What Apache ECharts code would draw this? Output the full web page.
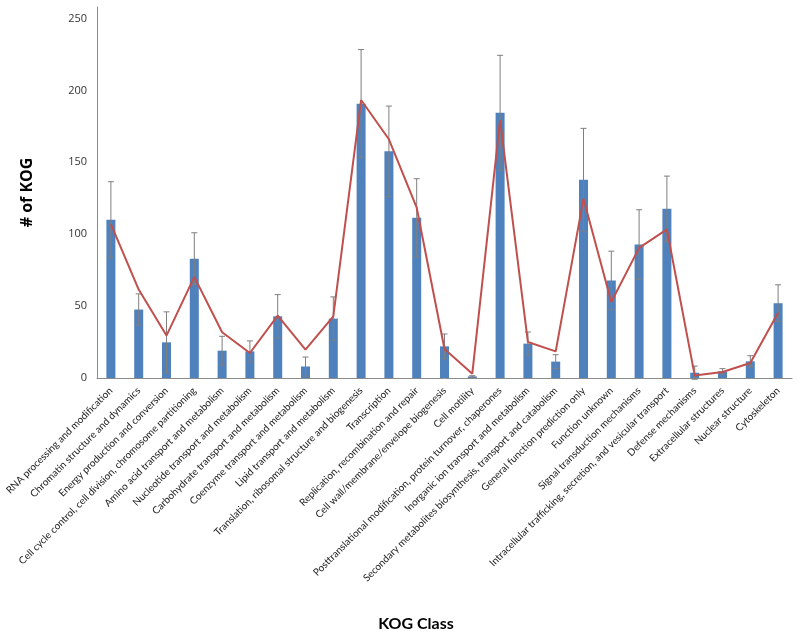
<!DOCTYPE html>
<html>
<head>
<meta charset="utf-8">
<script src="https://cdn.jsdelivr.net/npm/echarts@6/dist/echarts.min.js"></script>
<style>html,body{margin:0;padding:0;background:#fff}#c{width:800px;height:637px}</style>
</head>
<body>
<div id="c"></div>
<script>
var categories = ["RNA processing and modification","Chromatin structure and dynamics","Energy production and conversion","Cell cycle control, cell division, chromosome partitioning","Amino acid transport and metabolism","Nucleotide transport and metabolism","Carbohydrate transport and metabolism","Coenzyme transport and metabolism","Lipid transport and metabolism","Translation, ribosomal structure and biogenesis","Transcription","Replication, recombination and repair","Cell wall/membrane/envelope biogenesis","Cell motility","Posttranslational modification, protein turnover, chaperones","Inorganic ion transport and metabolism","Secondary metabolites biosynthesis, transport and catabolism","General function prediction only","Function unknown","Signal transduction mechanisms","Intracellular trafficking, secretion, and vesicular transport","Defense mechanisms","Extracellular structures","Nuclear structure","Cytoskeleton"];
var barValues = [110, 47.6, 24.8, 83, 19, 18.5, 42.9, 8, 41.3, 190.8, 157.6, 111.4, 22, 1.1, 184.5, 23.9, 11.4, 137.9, 67.8, 92.8, 117.7, 3.7, 4.6, 11.6, 52];
var errValues = [26.5, 10.9, 21.2, 18, 10, 7.3, 15.1, 6.6, 15.1, 37.6, 31.5, 27.2, 8.6, 0.5, 39.9, 8.1, 4.8, 35.7, 20.4, 24.2, 22.7, 4.6, 1.9, 3.9, 12.8];
var lineValues = [107, 61.5, 29.5, 70.3, 31.8, 17.4, 43.4, 19.7, 42.9, 193.3, 166, 118.4, 20.2, 3, 179.4, 25, 18.5, 124.7, 52.9, 90.5, 103.3, 1.8, 4.2, 10.4, 45.3];
var yTicks = [0, 50, 100, 150, 200, 250];

var errData = barValues.map(function(v, i){ return [i, v - errValues[i], v + errValues[i]]; });

var chart = echarts.init(document.getElementById('c'), null, {renderer: 'canvas'});
chart.setOption({
  animation: false,
  backgroundColor: '#fff',
  grid: {left: 97, right: 8, top: 7, bottom: 259, containLabel: false},
  xAxis: {
    type: 'category',
    data: categories,
    axisLine: {lineStyle: {color: '#8c8c8c', width: 1}},
    axisTick: {show: false},
    axisLabel: {rotate: 45, interval: 0, fontSize: 10, fontFamily: 'Lato', color: '#222', margin: 11}
  },
  yAxis: {
    type: 'value',
    min: 0, max: 258, interval: 50,
    name: '# of KOG', nameLocation: 'middle', nameGap: 62,
    nameTextStyle: {fontSize: 16, fontWeight: 'bold', fontFamily: 'Open Sans', color: '#000'},
    axisLine: {show: true, lineStyle: {color: '#8c8c8c', width: 1}},
    axisTick: {show: false},
    splitLine: {show: false},
    axisLabel: {fontSize: 11, fontFamily: 'Open Sans', color: '#333', showMaxLabel: false, margin: 10,
      formatter: function(v){ return yTicks.indexOf(v) >= 0 ? String(v) : ''; }}
  },
  graphic: [{
    type: 'text', x: 416, y: 624,
    style: {text: 'KOG Class', font: 'bold 16px Lato', fill: '#000', textAlign: 'center', textVerticalAlign: 'middle'}
  }],
  series: [
    {type: 'bar', data: barValues, barWidth: 9, itemStyle: {color: '#4f81bd'}, z: 2},
    {type: 'custom', data: errData, z: 3,
      renderItem: function(params, api){
        var x = api.value(0);
        var lo = api.coord([x, api.value(1)]);
        var hi = api.coord([x, api.value(2)]);
        var w = 3;
        var st = {stroke: '#7f7f7f', lineWidth: 1};
        return {type: 'group', children: [
          {type: 'line', shape: {x1: hi[0], y1: hi[1], x2: lo[0], y2: lo[1]}, style: st},
          {type: 'line', shape: {x1: hi[0]-w, y1: hi[1], x2: hi[0]+w, y2: hi[1]}, style: st},
          {type: 'line', shape: {x1: lo[0]-w, y1: lo[1], x2: lo[0]+w, y2: lo[1]}, style: st}
        ]};
      }
    },
    {type: 'line', data: lineValues, showSymbol: false, symbol: 'none', z: 4,
      lineStyle: {color: '#c0504d', width: 2}}
  ]
});
</script>
</body>
</html>
